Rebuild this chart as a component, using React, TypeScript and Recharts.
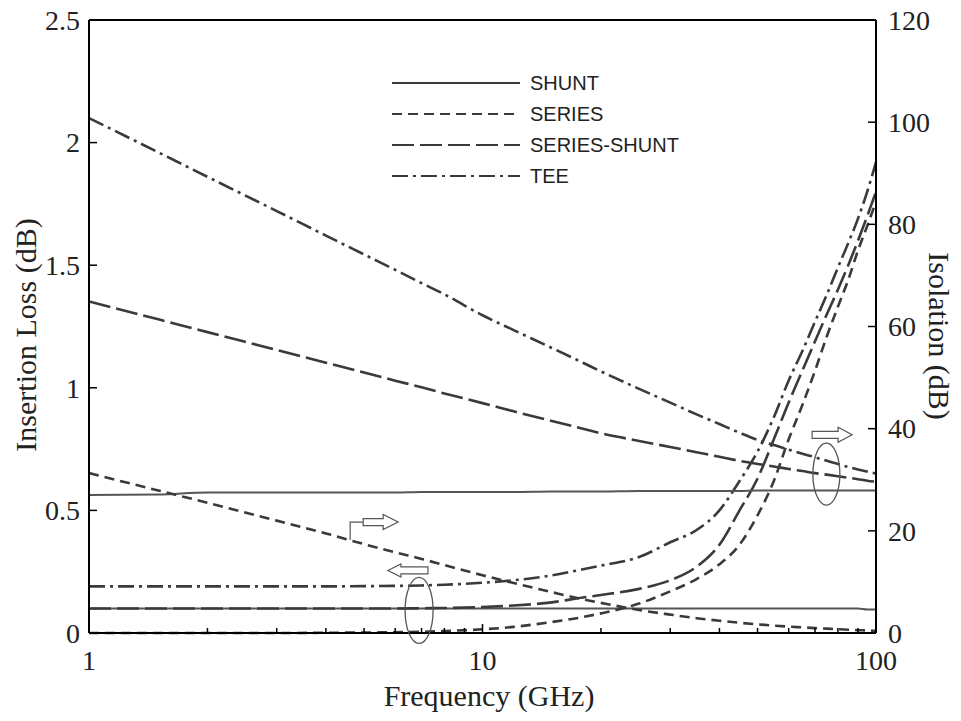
import React from 'react';
import { LineChart, Line, XAxis, YAxis, Legend, ReferenceLine, ReferenceDot, Label } from 'recharts';

// frequency grid (GHz)
const FREQ = [1, 1.5, 2, 3, 4, 5, 6, 7, 8, 10, 12, 15, 18, 20, 25, 30, 35, 40, 45, 50, 55, 60, 65, 70, 75, 80, 85, 90, 95, 100];

// insertion loss (dB), left axis
const SHUNT_IL = [0.1, 0.1, 0.1, 0.1, 0.1, 0.1, 0.1, 0.1, 0.1, 0.1, 0.1, 0.1, 0.1, 0.1, 0.1, 0.1, 0.1, 0.1, 0.1, 0.1, 0.1, 0.1, 0.1, 0.1, 0.1, 0.1, 0.1, 0.1, 0.096, 0.096];
const SERIES_IL = [0, 0, 0, 0, 0.001, 0.002, 0.003, 0.005, 0.008, 0.015, 0.025, 0.045, 0.065, 0.08, 0.12, 0.17, 0.22, 0.28, 0.36, 0.48, 0.62, 0.79, 0.93, 1.07, 1.21, 1.33, 1.44, 1.56, 1.66, 1.76];
const SS_IL = [0.1, 0.1, 0.1, 0.1, 0.1, 0.1, 0.1, 0.101, 0.102, 0.106, 0.112, 0.125, 0.145, 0.155, 0.18, 0.215, 0.27, 0.36, 0.5, 0.63, 0.79, 0.94, 1.07, 1.19, 1.3, 1.4, 1.5, 1.6, 1.7, 1.8];
const TEE_IL = [0.19, 0.19, 0.19, 0.19, 0.19, 0.191, 0.192, 0.194, 0.197, 0.205, 0.215, 0.235, 0.26, 0.275, 0.31, 0.37, 0.42, 0.5, 0.62, 0.74, 0.88, 1.03, 1.15, 1.27, 1.38, 1.49, 1.59, 1.69, 1.8, 1.92];

// isolation (dB), right axis
const SHUNT_ISO = [27.0, 27.1, 27.5, 27.5, 27.5, 27.5, 27.5, 27.6, 27.6, 27.6, 27.6, 27.7, 27.7, 27.7, 27.8, 27.8, 27.8, 27.8, 27.8, 27.9, 27.9, 27.9, 27.9, 27.9, 27.9, 27.9, 27.9, 27.9, 27.9, 27.9];
const SERIES_ISO = [31.3, 27.9, 25.5, 22.0, 19.5, 17.4, 15.8, 14.5, 13.3, 11.3, 9.8, 8.0, 6.6, 5.9, 4.5, 3.6, 2.9, 2.4, 2.0, 1.7, 1.45, 1.25, 1.1, 0.95, 0.85, 0.75, 0.65, 0.55, 0.5, 0.4];
const SS_ISO = [64.9, 61.4, 58.9, 55.4, 52.9, 51.0, 49.4, 48.1, 46.9, 45.0, 43.4, 41.5, 40.0, 39.1, 37.6, 36.4, 35.4, 34.5, 33.7, 33.1, 32.6, 32.1, 31.7, 31.3, 31.0, 30.7, 30.4, 30.1, 29.8, 29.6];
const TEE_ISO = [100.8, 94.1, 89.3, 82.6, 77.8, 74.1, 71.1, 68.5, 66.3, 62.2, 59.3, 55.8, 52.9, 51.2, 47.8, 45.1, 42.8, 40.9, 39.2, 37.8, 36.8, 35.9, 35.1, 34.4, 33.7, 33.1, 32.5, 32.0, 31.6, 31.2];

const X_TICKS = [1, 2, 3, 4, 5, 6, 7, 8, 9, 10, 20, 30, 40, 50, 60, 70, 80, 90, 100];
const X_LABELS = [1, 10, 100];
const IL_TICKS = [0, 0.5, 1, 1.5, 2, 2.5];
const ISO_TICKS = [0, 20, 40, 60, 80, 100, 120];

const NAMES = ['SHUNT', 'SERIES', 'SERIES-SHUNT', 'TEE'];
const DASH: Record<string, string | undefined> = {
  SHUNT: undefined,
  SERIES: '10 6',
  'SERIES-SHUNT': '22 6',
  TEE: '16 5 3 5',
};

const data = FREQ.map((f, i) => ({
  f,
  shuntIL: SHUNT_IL[i],
  seriesIL: SERIES_IL[i],
  ssIL: SS_IL[i],
  teeIL: TEE_IL[i],
  shuntIso: SHUNT_ISO[i],
  seriesIso: SERIES_ISO[i],
  ssIso: SS_ISO[i],
  teeIso: TEE_ISO[i],
}));

const SERIF = "'Liberation Serif', 'Times New Roman', serif";
const SANS = "'Liberation Sans', Arial, sans-serif";
const INK = '#3a3a3a';

const FreqTick = (props: any) => {
  const { x, y, payload } = props;
  const major = X_LABELS.includes(payload.value);
  return (
    <g>
      <line x1={x} x2={x} y1={y} y2={y - (major ? 9 : 5)} stroke="#000" strokeWidth={1.5} />
      {major && (
        <text x={x} y={y + 37} textAnchor="middle" fontFamily={SERIF} fontSize={28} fill="#222">
          {payload.value}
        </text>
      )}
    </g>
  );
};

const IlTick = (props: any) => {
  const { x, y, payload } = props;
  return (
    <g>
      <line x1={x} x2={x + 8} y1={y} y2={y} stroke="#000" strokeWidth={1.5} />
      <text x={x - 9} y={y} dy="0.35em" textAnchor="end" fontFamily={SERIF} fontSize={28} fill="#222">
        {payload.value}
      </text>
    </g>
  );
};

const IsoTick = (props: any) => {
  const { x, y, payload } = props;
  return (
    <g>
      <line x1={x - 8} x2={x} y1={y} y2={y} stroke="#000" strokeWidth={1.5} />
      <text x={x + 12} y={y} dy="0.35em" textAnchor="start" fontFamily={SERIF} fontSize={28} fill="#222">
        {payload.value}
      </text>
    </g>
  );
};

const LegendBox = () => (
  <svg width={300} height={130}>
    {NAMES.map((n, i) => (
      <g key={n}>
        <line x1={0} x2={128} y1={13 + i * 31} y2={13 + i * 31} stroke={INK} strokeWidth={2.2} strokeDasharray={DASH[n]} />
        <text x={138} y={13 + i * 31} dy="0.35em" fontFamily={SANS} fontSize={20} fill="#222">
          {n}
        </text>
      </g>
    ))}
  </svg>
);

const ellipse = (rx: number, ry: number) => (p: any) => (
  <ellipse cx={p.cx} cy={p.cy} rx={rx} ry={ry} fill="none" stroke="#555" strokeWidth={1.3} />
);

// hollow block arrow pointing right, tail at (x0, y0)
const rightArrowPath = (x0: number, y0: number, body: number, head: number) =>
  `M${x0},${y0 - 3.5} L${x0 + body},${y0 - 3.5} L${x0 + body},${y0 - 7.5} L${x0 + body + head},${y0} ` +
  `L${x0 + body},${y0 + 7.5} L${x0 + body},${y0 + 3.5} L${x0},${y0 + 3.5} Z`;

const rightArrow = (p: any) => (
  <path d={rightArrowPath(p.cx, p.cy, 26, 14)} fill="#fff" stroke="#555" strokeWidth={1.2} />
);

const leftArrow = (p: any) => {
  const x = p.cx;
  const y = p.cy;
  const d =
    `M${x},${y} L${x + 13},${y - 6.5} L${x + 13},${y - 3.5} L${x + 40},${y - 3.5} ` +
    `L${x + 40},${y + 3.5} L${x + 13},${y + 3.5} L${x + 13},${y + 6.5} Z`;
  return <path d={d} fill="#fff" stroke="#555" strokeWidth={1.2} />;
};

const bentArrow = (p: any) => {
  const x = p.cx;
  const y = p.cy;
  return (
    <g>
      <polyline points={`${x},${y} ${x},${y - 18} ${x + 13},${y - 18}`} fill="none" stroke="#555" strokeWidth={1.2} />
      <path d={rightArrowPath(x + 13, y - 18, 20, 15)} fill="#fff" stroke="#555" strokeWidth={1.2} />
    </g>
  );
};

export default function App() {
  const line = (key: string, axis: string, name: string) => (
    <Line
      key={key}
      yAxisId={axis}
      type="monotone"
      dataKey={key}
      name={name}
      stroke={name === 'SHUNT' ? '#555' : INK}
      strokeWidth={name === 'SHUNT' ? 2 : 2.6}
      strokeDasharray={DASH[name]}
      dot={false}
      activeDot={false}
      legendType="none"
      isAnimationActive={false}
    />
  );

  return (
    <div style={{ position: 'absolute', left: 0, top: 0 }}>
      <LineChart width={961} height={721} data={data} margin={{ top: 20, right: 25, bottom: 28, left: 29 }}>
        <XAxis
          dataKey="f"
          type="number"
          scale="log"
          domain={[1, 100]}
          allowDataOverflow
          ticks={X_TICKS}
          interval={0}
          tick={FreqTick}
          tickLine={false}
          tickSize={0}
          tickMargin={0}
          height={60}
          axisLine={{ stroke: '#000', strokeWidth: 2 }}
        >
          <Label
            content={() => (
              <text x={489} y={706} textAnchor="middle" fontFamily={SERIF} fontSize={30} fill="#222">
                Frequency (GHz)
              </text>
            )}
          />
        </XAxis>
        <YAxis
          yAxisId="left"
          domain={[0, 2.5]}
          ticks={IL_TICKS}
          interval={0}
          tick={IlTick}
          tickLine={false}
          tickSize={0}
          tickMargin={0}
          width={60}
          axisLine={{ stroke: '#000', strokeWidth: 2 }}
        >
          <Label
            content={() => (
              <text
                x={36}
                y={335}
                transform="rotate(-90 36 335)"
                textAnchor="middle"
                fontFamily={SERIF}
                fontSize={30}
                fill="#222"
              >
                Insertion Loss (dB)
              </text>
            )}
          />
        </YAxis>
        <YAxis
          yAxisId="right"
          orientation="right"
          domain={[0, 120]}
          ticks={ISO_TICKS}
          interval={0}
          tick={IsoTick}
          tickLine={false}
          tickSize={0}
          tickMargin={0}
          width={60}
          axisLine={{ stroke: '#000', strokeWidth: 2 }}
        >
          <Label
            content={() => (
              <text
                x={929}
                y={336}
                transform="rotate(90 929 336)"
                textAnchor="middle"
                fontFamily={SERIF}
                fontSize={30}
                fill="#222"
              >
                Isolation (dB)
              </text>
            )}
          />
        </YAxis>

        <ReferenceLine yAxisId="left" y={2.5} stroke="#000" strokeWidth={2} />

        {line('shuntIL', 'left', 'SHUNT')}
        {line('seriesIL', 'left', 'SERIES')}
        {line('ssIL', 'left', 'SERIES-SHUNT')}
        {line('teeIL', 'left', 'TEE')}
        {line('shuntIso', 'right', 'SHUNT')}
        {line('seriesIso', 'right', 'SERIES')}
        {line('ssIso', 'right', 'SERIES-SHUNT')}
        {line('teeIso', 'right', 'TEE')}

        <ReferenceDot yAxisId="right" x={74.8} y={31.1} r={0} shape={ellipse(13.5, 31)} />
        <ReferenceDot yAxisId="right" x={68.8} y={38.8} r={0} shape={rightArrow} />
        <ReferenceDot yAxisId="left" x={6.9} y={0.092} r={0} shape={ellipse(14, 33)} />
        <ReferenceDot yAxisId="left" x={5.75} y={0.255} r={0} shape={leftArrow} />
        <ReferenceDot yAxisId="right" x={4.61} y={18.2} r={0} shape={bentArrow} />

        <Legend
          layout="vertical"
          align="center"
          verticalAlign="middle"
          content={LegendBox}
          wrapperStyle={{ left: 392, top: 70, width: 300, height: 130 }}
        />
      </LineChart>
    </div>
  );
}
